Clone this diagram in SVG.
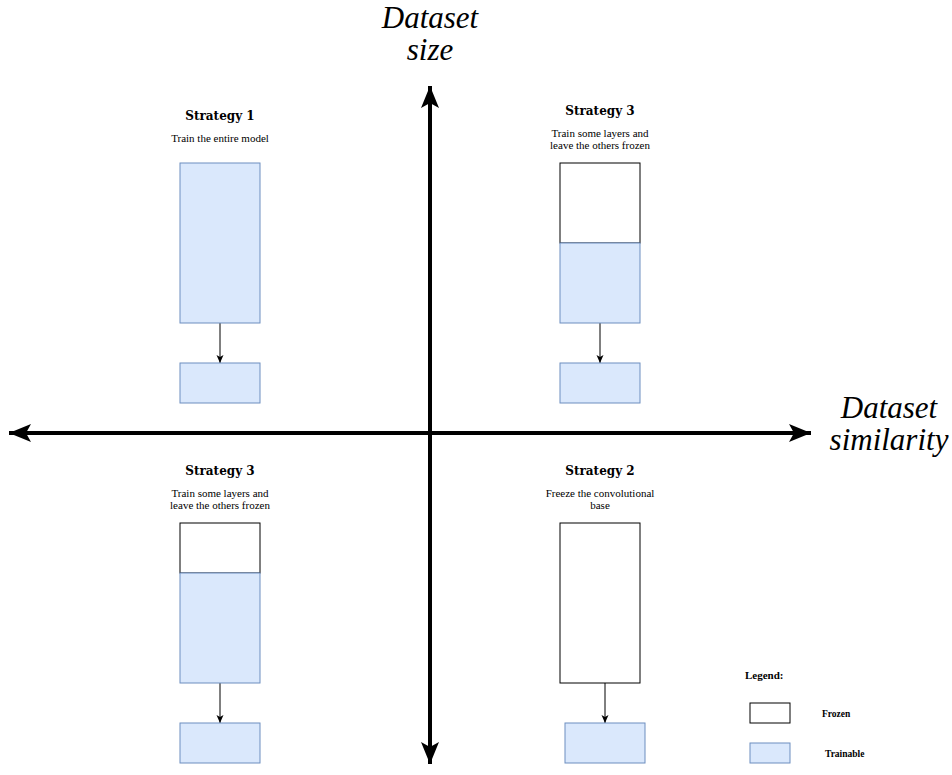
<svg xmlns="http://www.w3.org/2000/svg" width="952" height="775" viewBox="0 0 952 775">
<style>
.t{fill:#dae8fc;stroke:#6c8ebf;stroke-width:1}
.f{fill:#ffffff;stroke:#000000;stroke-width:1}
.title{font-family:"DejaVu Serif","Liberation Serif",serif;font-weight:bold;font-size:12px;text-anchor:middle;fill:#000}
.sub{font-family:"Liberation Serif",serif;font-size:11px;text-anchor:middle;fill:#000}
.ax{font-family:"Liberation Serif",serif;font-style:italic;font-size:31px;text-anchor:middle;fill:#000}
.leg{font-family:"Liberation Serif",serif;font-weight:bold;font-size:10px;fill:#000}
.c{stroke:#000;stroke-width:1;fill:none}
.axis{stroke:#000;stroke-width:4;fill:none}
</style>
<defs>
<marker id="a" markerWidth="10" markerHeight="10" refX="9" refY="5" orient="auto" markerUnits="userSpaceOnUse">
<path d="M1,1.5 L9,5 L1,8.5 L3,5 Z" fill="#000"/>
</marker>
<marker id="big" markerWidth="26" markerHeight="22" refX="22" refY="11" orient="auto" markerUnits="userSpaceOnUse">
<path d="M0,2 L22,11 L0,20 L5,11 Z" fill="#000"/>
</marker>
</defs>
<rect width="952" height="775" fill="#fff"/>
<g id="connectors">
<line class="axis" x1="430" y1="433" x2="430" y2="86" marker-end="url(#big)"/>
<line class="axis" x1="430" y1="433" x2="430" y2="764" marker-end="url(#big)"/>
<line class="axis" x1="430" y1="433" x2="811" y2="433" marker-end="url(#big)"/>
<line class="axis" x1="430" y1="433" x2="9" y2="433" marker-end="url(#big)"/>
<line class="c" x1="220" y1="323" x2="220" y2="363" marker-end="url(#a)"/>
<line class="c" x1="600" y1="323" x2="600" y2="363" marker-end="url(#a)"/>
<line class="c" x1="220" y1="683" x2="220" y2="723" marker-end="url(#a)"/>
<line class="c" x1="605" y1="683" x2="605" y2="723" marker-end="url(#a)"/>
</g>
<g id="axis-labels">
<text class="ax" x="430" y="28">Dataset</text>
<text class="ax" x="430" y="60">size</text>
<text class="ax" x="889" y="418">Dataset</text>
<text class="ax" x="889" y="450">similarity</text>
</g>
<g id="strategy1-tl">
<text class="title" x="220" y="120">Strategy 1</text>
<text class="sub" x="220" y="142">Train the entire model</text>
<rect class="t" x="180" y="163" width="80" height="160"/>
<rect class="t" x="180" y="363" width="80" height="40"/>
</g>
<g id="strategy3-tr">
<text class="title" x="600" y="115">Strategy 3</text>
<text class="sub" x="600" y="137">Train some layers and</text>
<text class="sub" x="600" y="149">leave the others frozen</text>
<rect class="f" x="560" y="163" width="80" height="80"/>
<rect class="t" x="560" y="243" width="80" height="80"/>
<rect class="t" x="560" y="363" width="80" height="40"/>
</g>
<g id="strategy3-bl">
<text class="title" x="220" y="475">Strategy 3</text>
<text class="sub" x="220" y="497">Train some layers and</text>
<text class="sub" x="220" y="509">leave the others frozen</text>
<rect class="f" x="180" y="523" width="80" height="50"/>
<rect class="t" x="180" y="573" width="80" height="110"/>
<rect class="t" x="180" y="723" width="80" height="40"/>
</g>
<g id="strategy2-br">
<text class="title" x="600" y="475">Strategy 2</text>
<text class="sub" x="600" y="497">Freeze the convolutional</text>
<text class="sub" x="600" y="509">base</text>
<rect class="f" x="560" y="523" width="80" height="160"/>
<rect class="t" x="565" y="723" width="80" height="40"/>
</g>
<g id="legend">
<text class="leg" x="745" y="679" style="font-size:11px">Legend:</text>
<rect class="f" x="750" y="703" width="40" height="20"/>
<text class="leg" x="822" y="717" style="font-size:9.5px">Frozen</text>
<rect class="t" x="750" y="743" width="40" height="20"/>
<text class="leg" x="825" y="757" style="font-size:9.5px">Trainable</text>
</g>
</svg>
